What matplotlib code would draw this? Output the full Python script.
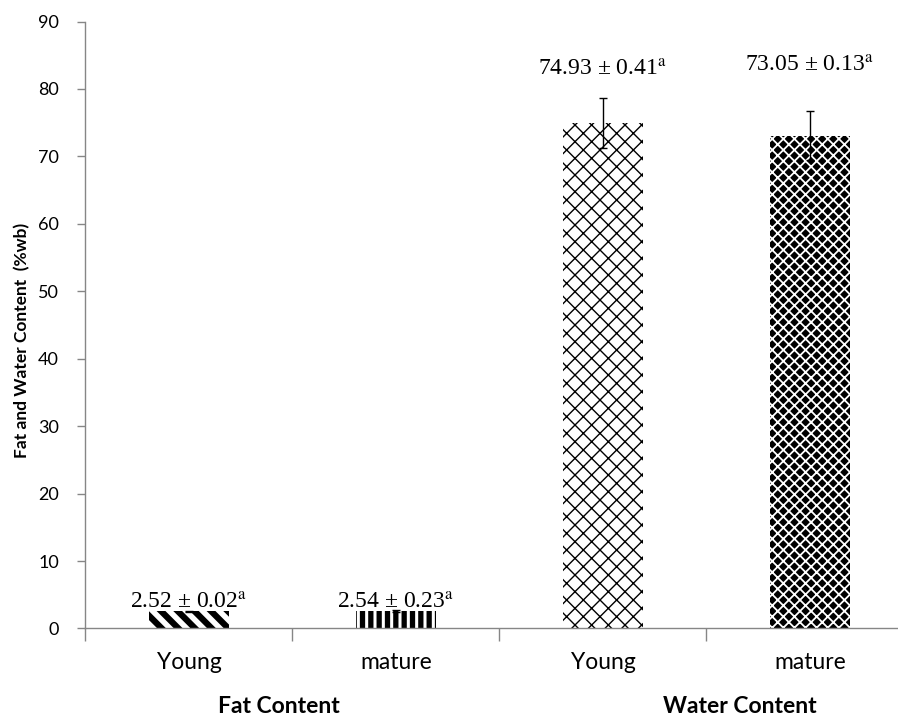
import matplotlib
matplotlib.use("Agg")
import matplotlib.pyplot as plt
import matplotlib.transforms as mtransforms
import numpy as np

# ---- data ----
categories = ["Young", "mature", "Young", "mature"]
groups = ["Fat Content", "Water Content"]
values = [2.52, 2.54, 74.93, 73.05]
errors = [0.13, 0.13, 3.75, 3.65]
label_means = ["2.52", "2.54", "74.93", "73.05"]
label_sds = ["0.02", "0.23", "0.41", "0.13"]
label_letters = ["a", "a", "a", "a"]
yticks = [0, 10, 20, 30, 40, 50, 60, 70, 80, 90]

plt.rcParams['mathtext.fontset'] = 'stix'

fig = plt.figure(figsize=(8.98, 7.18), dpi=100)
ax = fig.add_axes([0.0952, 0.1247, 0.922, 0.8453])

x = np.arange(len(categories))
bars = ax.bar(x, values, width=0.39, color='white', edgecolor='black',
              linewidth=0, zorder=2)

styles = [
    dict(hatch='\\\\', lw=4.5, face='white', edge='black'),
    dict(hatch='||', lw=3.8, face='white', edge='black'),
    dict(hatch='xx', lw=1.0, face='white', edge='black'),
    dict(hatch='xxx', lw=1.3, face='black', edge='white'),
]
for b, st in zip(bars, styles):
    b.set_facecolor(st['face'])
    b.set_edgecolor(st['edge'])
    b.set_hatch(st['hatch'])
    if hasattr(b, 'set_hatch_linewidth'):
        b.set_hatch_linewidth(st['lw'])

ax.errorbar(x, values, yerr=errors, fmt='none', ecolor='black',
            elinewidth=1, capsize=3, capthick=1, zorder=3)

# value labels
label_y = [2.9, 2.9, 81.9, 82.5]
for xi, ly, m, s, l in zip(x, label_y, label_means, label_sds, label_letters):
    ax.text(xi, ly, f"{m} \u00b1 {s}" + r"$^{\mathrm{" + l + r"}}$",
            ha='center', va='baseline', fontsize=17,
            family='Liberation Serif', zorder=4)

ax.set_ylim(0, 90)
ax.set_xlim(-0.5, len(categories) - 0.5)
ax.set_yticks(yticks)
ax.set_yticklabels([str(t) for t in yticks], family='Lato', fontsize=13)

ax.set_xticks(np.arange(len(categories) + 1) - 0.5)
ax.set_xticklabels([])
ax.set_xticks(x, minor=True)
ax.set_xticklabels(categories, minor=True, family='Lato', fontsize=16.5)
ax.tick_params(axis='x', which='major', length=9, color='#868686', width=1)
ax.tick_params(axis='x', which='minor', length=0, pad=17)
ax.tick_params(axis='y', length=6, color='#868686', width=1, pad=13)

for side in ['top', 'right']:
    ax.spines[side].set_visible(False)
for side in ['left', 'bottom']:
    ax.spines[side].set_color('#868686')
    ax.spines[side].set_linewidth(1)

ax.set_ylabel("Fat and Water Content  (%wb)", family='Lato',
              fontweight='bold', fontsize=12.5)
ax.yaxis.label.set_va('center')
ax.yaxis.set_label_coords(-0.0767, 0.475)

trans = mtransforms.blended_transform_factory(ax.transData, ax.transAxes)
group_x = [0.435, 2.662]
for gx, g in zip(group_x, groups):
    ax.text(gx, -0.128, g, transform=trans, ha='center', va='center',
            family='Lato', fontweight='bold', fontsize=16.5)

fig.savefig("out.png", dpi=100)
